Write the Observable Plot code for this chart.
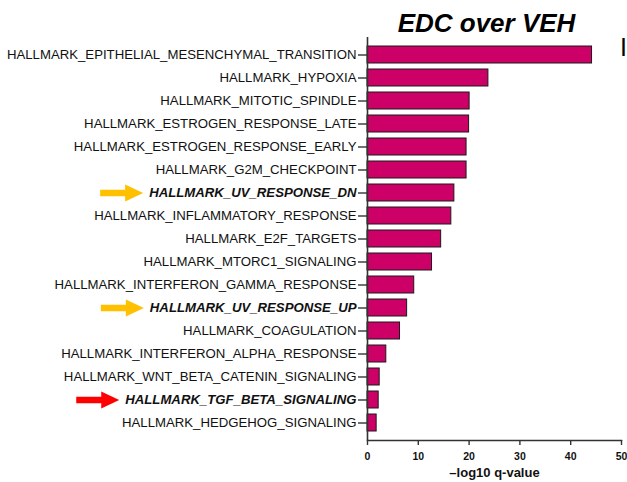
<!DOCTYPE html>
<html>
<head>
<meta charset="utf-8">
<script src="https://cdn.jsdelivr.net/npm/d3@7"></script>
<script src="https://cdn.jsdelivr.net/npm/@observablehq/plot@0.6"></script>
<style>
  html, body { margin: 0; padding: 0; background: #fff; }
  #chart svg { display: block; }
</style>
</head>
<body>
<div id="chart"></div>
<script>
const pathways = [
  "HALLMARK_EPITHELIAL_MESENCHYMAL_TRANSITION",
  "HALLMARK_HYPOXIA",
  "HALLMARK_MITOTIC_SPINDLE",
  "HALLMARK_ESTROGEN_RESPONSE_LATE",
  "HALLMARK_ESTROGEN_RESPONSE_EARLY",
  "HALLMARK_G2M_CHECKPOINT",
  "HALLMARK_UV_RESPONSE_DN",
  "HALLMARK_INFLAMMATORY_RESPONSE",
  "HALLMARK_E2F_TARGETS",
  "HALLMARK_MTORC1_SIGNALING",
  "HALLMARK_INTERFERON_GAMMA_RESPONSE",
  "HALLMARK_UV_RESPONSE_UP",
  "HALLMARK_COAGULATION",
  "HALLMARK_INTERFERON_ALPHA_RESPONSE",
  "HALLMARK_WNT_BETA_CATENIN_SIGNALING",
  "HALLMARK_TGF_BETA_SIGNALING",
  "HALLMARK_HEDGEHOG_SIGNALING"
];
const negLog10Q = [44.2, 23.8, 20.1, 20.0, 19.5, 19.5, 17.1, 16.5, 14.5, 12.7, 9.2, 7.8, 6.4, 3.7, 2.4, 2.2, 1.8];
const xTicks = [0, 10, 20, 30, 40, 50];
const arrowTargets = ["HALLMARK_UV_RESPONSE_DN", "HALLMARK_UV_RESPONSE_UP", "HALLMARK_TGF_BETA_SIGNALING"];
const arrowColors = ["#FFC000", "#FFC000", "#FF0000"];
const titleText = "EDC over VEH";
const xLabel = "\u2013log10 q-value";

const data = pathways.map((name, i) => ({name, value: negLog10Q[i], bold: arrowTargets.includes(name)}));

const font = "'Liberation Sans', Arial, Helvetica, sans-serif";
const labelSize = 13.2;
const labelGap = 11;

const ctx = document.createElement("canvas").getContext("2d");
ctx.font = `italic bold ${labelSize}px 'Liberation Sans'`;

const blockArrow = {
  draw(context, l) {
    const s = 3.3, h = 8.5, hl = 18;
    context.moveTo(-s, 0);
    context.lineTo(-s, -(l - hl));
    context.lineTo(-h, -(l - hl));
    context.lineTo(0, -l);
    context.lineTo(h, -(l - hl));
    context.lineTo(s, -(l - hl));
    context.lineTo(s, 0);
    context.closePath();
  }
};

const arrowMarks = arrowTargets.map((name, i) => {
  const w = ctx.measureText(name).width;
  return Plot.vector([{name}], {
    x: () => 0,
    y: "name",
    length: 43,
    rotate: 90,
    anchor: "end",
    shape: blockArrow,
    fill: arrowColors[i],
    stroke: "none",
    dx: -(labelGap + w + 6)
  });
});

const chart = Plot.plot({
  width: 627,
  height: 482,
  marginLeft: 367,
  marginRight: 6,
  marginTop: 37,
  marginBottom: 42,
  style: {fontFamily: font, background: "#fff", color: "#111"},
  x: {domain: [0, 50]},
  y: {domain: pathways, paddingInner: 0.28, paddingOuter: 0.354},
  marks: [
    Plot.barX(data, {x: "value", y: "name", fill: "#CC0066", stroke: "#1a1a1a", strokeWidth: 1}),
    Plot.ruleX([0], {stroke: "#333", strokeWidth: 1.6}),
    Plot.frame({anchor: "bottom", stroke: "#333", strokeWidth: 1.6}),
    Plot.axisY({tickSize: 9, tickFormat: () => "", stroke: "#333", strokeWidth: 1.4, label: null}),
    Plot.axisX({ticks: xTicks, tickSize: 5, tickPadding: 7.5, stroke: "#333", strokeWidth: 1.4,
      fontSize: 10.5, fontWeight: "bold", fill: "#111", label: null}),
    Plot.text(data.filter(d => !d.bold), {x: () => 0, y: "name", text: "name", textAnchor: "end",
      dx: -labelGap, fontSize: labelSize, fill: "#111"}),
    Plot.text(data.filter(d => d.bold), {x: () => 0, y: "name", text: "name", textAnchor: "end",
      dx: -labelGap, fontSize: labelSize, fontWeight: "bold", fontStyle: "italic", fill: "#111"}),
    ...arrowMarks,
    Plot.text([titleText], {frameAnchor: "top", lineAnchor: "bottom", dy: -6, dx: -8,
      fontSize: 26, fontWeight: "bold", fontStyle: "italic", fill: "#000"}),
    Plot.text([xLabel], {frameAnchor: "bottom", lineAnchor: "bottom", dy: 36,
      fontSize: 13, fontWeight: "bold", fill: "#111"}),
    Plot.text(["I"], {frameAnchor: "top-right", textAnchor: "start", lineAnchor: "bottom", dy: 18, dx: -1.5,
      fontSize: 25, fill: "#000"})
  ]
});
document.getElementById("chart").appendChild(chart);
</script>
</body>
</html>
